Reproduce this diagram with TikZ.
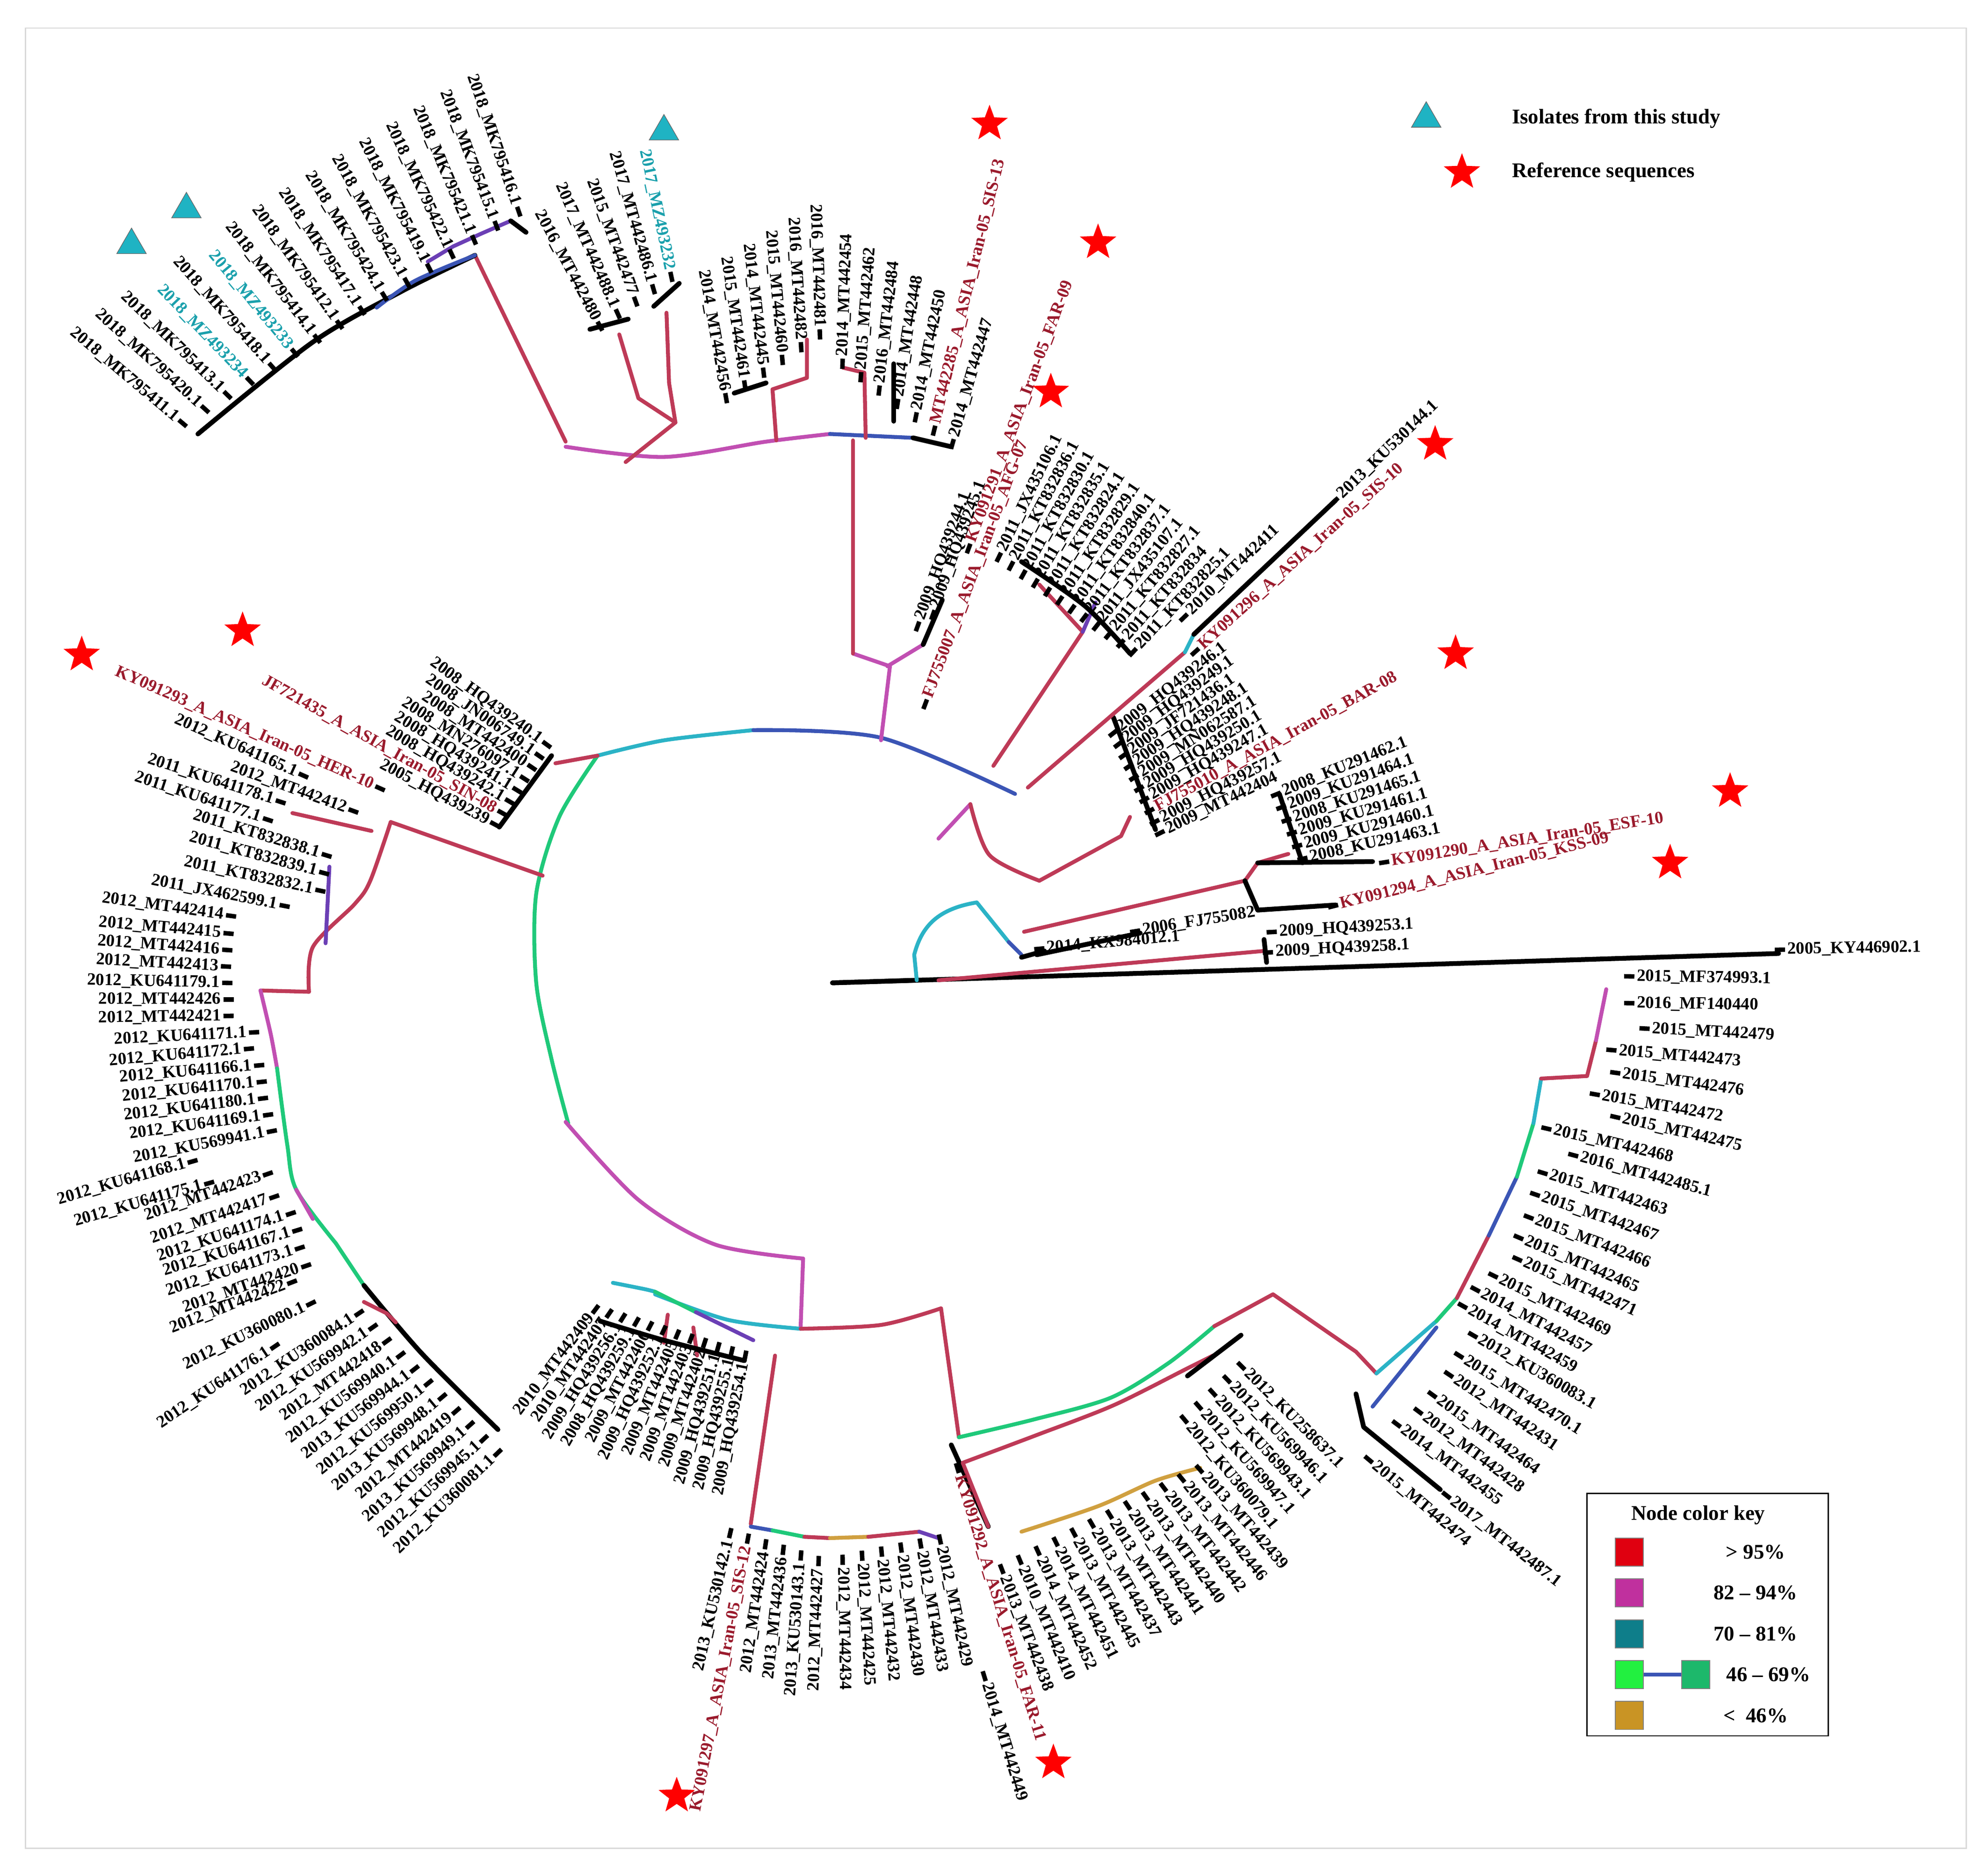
\documentclass[tikz,border=0pt]{standalone}
\usepackage{fontspec}
\setmainfont{Liberation Serif}
\usetikzlibrary{shapes.geometric}
\definecolor{k}{HTML}{000000}
\definecolor{labred}{HTML}{9A1A2C}
\definecolor{labcyan}{HTML}{1AA0AC}
\definecolor{BrRed}{HTML}{BE3A57}
\definecolor{BrMag}{HTML}{C14FB2}
\definecolor{BrCyan}{HTML}{2BB3C6}
\definecolor{BrBlue}{HTML}{3B55B5}
\definecolor{BrPurple}{HTML}{6B3FB5}
\definecolor{BrGreen}{HTML}{1FC97A}
\definecolor{BrGold}{HTML}{D0A040}
\definecolor{KeyRed}{HTML}{E00010}
\definecolor{KeyMag}{HTML}{C0309E}
\definecolor{KeyTeal}{HTML}{0E7E8A}
\definecolor{KeyGreen}{HTML}{22F040}
\definecolor{KeyGreenB}{HTML}{1DB86B}
\definecolor{KeyGold}{HTML}{C99424}
\definecolor{IsoCyan}{HTML}{1FB3C3}

\tikzset{
  lbl/.style={font=\fontsize{11.5}{13}\selectfont\bfseries, inner sep=1.5pt},
  tick/.style={line width=3pt, black},
  br/.style={line width=2.6pt, line cap=round, line join=round},
  bR/.style={br, BrRed}, bM/.style={br, BrMag}, bC/.style={br, BrCyan},
  bB/.style={br, BrBlue}, bP/.style={br, BrPurple}, bG/.style={br, BrGreen},
  bY/.style={br, BrGold}, bK/.style={br, black, line width=3.2pt},
  refstar/.style={star, star points=5, star point ratio=2.4, fill=red, draw=none, minimum size=0.9cm, inner sep=0pt},
  isotri/.style={regular polygon, regular polygon sides=3, fill=IsoCyan, draw=black!60, line width=0.4pt, minimum size=0.8cm, inner sep=0pt},
  keysq/.style={draw=black!50, line width=0.6pt, minimum size=0.66cm, inner sep=0pt},
  keytxt/.style={font=\fontsize{14}{16}\selectfont\bfseries}
}

\newcount\lfno
% one leaf: x, y, rotation, 0 = text ends at tree / 180 = text starts at tree, text, colour
\newcommand\leaf[6]{%
  \global\advance\lfno by 1
  \ifnum#4=0 \def\lfanc{east}\else\def\lfanc{west}\fi
  \node[lbl, text=#6, rotate=#3, anchor=\lfanc] (lf\the\lfno) at (#1,#2) {#5};
  \draw[tick] (lf\the\lfno.\lfanc) -- ++({-(#3)+#4}:8);
}
% a run of leaves between two end positions
\newcommand\leafrun[8]{%
  \def\nn{0}%
  \foreach \t/\c in {#8}{\xdef\nn{\the\numexpr\nn+1\relax}}%
  \foreach \t/\c [count=\i from 0] in {#8}{
    \pgfmathsetmacro\f{\i/(\nn-1)}
    \pgfmathsetmacro\xx{(#1)+\f*((#4)-(#1))}
    \pgfmathsetmacro\yy{(#2)+\f*((#5)-(#2))}
    \pgfmathsetmacro\rr{(#3)+\f*((#6)-(#3))}
    \leaf{\xx}{\yy}{\rr}{#7}{\t}{\c}
  }%
}

\begin{document}
\begin{tikzpicture}[x=0.03cm, y=-0.03cm]
\useasboundingbox (0,0) rectangle (1557,1454);
\draw[black!15, line width=0.8pt] (20,22) rectangle (1540,1448);

% ---- backbone
\draw[bK] (652,770) -- (1393,747);
\draw[bR] (735,768) -- (990,745);
\draw[bK] (990,736) -- (992,754);
\draw[bK] (652,770) -- (718,768);
\draw[bC] (718,768) -- (716,748) .. controls (722,725) and (735,712) .. (765,707) -- (790,738);
\draw[bB] (790,738) -- (800,748);
\draw[bK] (800,750) -- (818,745);
\draw[bK] (812,748) -- (893,731);
\draw[bR] (802,730) -- (975,690);
\draw[bR] (975,690) -- (985,676) -- (1009,669);
\draw[bK] (1002,622) -- (1020,676);
\draw[bK] (975,690) -- (985,713) -- (1046,709);
\draw[bK] (985,676) -- (1075,675);

% ---- inner ring
\draw[bG] plot[smooth] coordinates {(468,592) (438,640) (420,700) (420,770) (432,830) (445,880)};
\draw[bC] plot[smooth] coordinates {(468,592) (520,580) (590,572)};
\draw[bB] plot[smooth] coordinates {(590,572) (690,578) (795,622)};
\draw[bM] (735,657) -- (760,630);
\draw[bR] plot[smooth] coordinates {(760,630) (775,670) (814,690)};
\draw[bR] (814,690) -- (878,655) -- (885,640);
\draw[bK] (872,562) -- (905,650);
\draw[bR] (778,600) -- (848,495) -- (814,458);
\draw[bP] (848,495) -- (858,472);
\draw[bK] plot[smooth] coordinates {(800,440) (850,475) (885,512)};
\draw[bR] (805,617) -- (928,511);
\draw[bC] (928,511) -- (935,497);
\draw[bK] (935,497) -- (1046,392);

% ---- top clades
\draw[bM] (668,512) -- (697,522) -- (690,580);
\draw[bR] (668,345) -- (668,512);
\draw[bM] (695,522) -- (723,505);
\draw[bK] (723,505) -- (738,470);
\draw[bM] plot[smooth] coordinates {(443,350) (520,358) (600,346) (650,340)};
\draw[bB] (650,340) -- (715,343);
\draw[bK] (715,343) -- (745,350);
\draw[bR] (490,362) -- (529,331);
\draw[bR] (529,331) -- (500,312) -- (485,262);
\draw[bR] (529,331) -- (524,300) -- (522,245);
\draw[bK] (462,258) -- (492,250);
\draw[bK] (512,240) -- (532,222);
\draw[bR] (608,345) -- (605,305) -- (632,296) -- (632,266);
\draw[bK] (575,308) -- (600,300);
\draw[bR] (678,343) -- (677,292) -- (660,288);
\draw[bK] (700,330) -- (700,285);
\draw[bR] (443,346) -- (372,200);
\draw[bK] plot[smooth] coordinates {(372,200) (315,228) (245,268) (155,340)};
\draw[bB] plot[smooth] coordinates {(372,200) (325,220) (295,241)};
\draw[bP] (335,205) -- (355,193) -- (377,183) -- (400,173);
\draw[bK] (400,173) -- (412,182);

% ---- left clades
\draw[bR] (468,592) -- (435,598);
\draw[bK] (391,648) -- (432,592);
\draw[bR] (425,686) -- (306,644);
\draw[bR] (291,651) -- (229,637);
\draw[bR] plot[smooth] coordinates {(306,644) (290,690) (278,708) (245,742) (242,777)};
\draw[bP] (258,679) -- (255,739);
\draw[bR] (242,777) -- (204,776);
\draw[bM] plot[smooth] coordinates {(204,776) (212,810) (217,837)};
\draw[bG] plot[smooth] coordinates {(217,837) (225,897) (232,932) (263,974)};
\draw[bM] (232,932) -- (245,955);
\draw[bG] (263,974) -- (285,1007);
\draw[bK] plot[smooth] coordinates {(285,1007) (330,1060) (390,1120)};
\draw[bR] (285,1020) -- (303,1029) -- (310,1036);

% ---- bottom clades
\draw[bM] plot[smooth] coordinates {(443,879) (500,940) (560,975) (629,986)};
\draw[bM] (629,986) -- (627,1041);
\draw[bC] plot[smooth] coordinates {(513,1014) (570,1034) (627,1041)};
\draw[bR] plot[smooth] coordinates {(627,1041) (690,1038) (737,1025)};
\draw[bR] (737,1025) -- (751,1126);
\draw[bC] plot[smooth] coordinates {(480,1005) (505,1010) (513,1012)};
\draw[bG] (513,1012) -- (545,1028);
\draw[bP] (545,1028) -- (590,1050);
\draw[bR] (523,1030) -- (520,1052);
\draw[bR] (543,1040) -- (546,1062);
\draw[bK] plot[smooth] coordinates {(470,1035) (520,1050) (583,1066)};
\draw[bR] (607,1062) -- (588,1194);
\draw[bB] (588,1196) -- (605,1199);
\draw[bG] (605,1199) -- (630,1204);
\draw[bR] (630,1204) -- (650,1205);
\draw[bY] (650,1205) -- (680,1204);
\draw[bR] (680,1204) -- (720,1200);
\draw[bP] (720,1200) -- (735,1205);
\draw[bG] plot[smooth] coordinates {(751,1126) (810,1112) (870,1095) (915,1068) (951,1039)};
\draw[bR] (951,1039) -- (997,1014) -- (1062,1059) -- (1078,1076);
\draw[bK] (745,1132) -- (774,1196);
\draw[bR] (774,1196) -- (754,1146);
\draw[bR] plot[smooth] coordinates {(754,1146) (810,1125) (872,1101) (930,1072) (950,1062)};
\draw[bK] (930,1078) -- (972,1046);
\draw[bY] plot[smooth] coordinates {(800,1200) (860,1180) (905,1160) (940,1150)};

% ---- right clade
\draw[bC] (1078,1076) -- (1125,1035);
\draw[bG] (1125,1035) -- (1141,1017);
\draw[bR] (1141,1017) -- (1166,968);
\draw[bB] (1166,968) -- (1188,922);
\draw[bG] (1188,922) -- (1201,880);
\draw[bC] (1201,880) -- (1207,845);
\draw[bR] (1207,845) -- (1243,843) -- (1250,815);
\draw[bM] (1250,815) -- (1258,775);
\draw[bB] (1075,1102) -- (1125,1040);
\draw[bK] (1062,1092) -- (1068,1118) -- (1128,1167);

% ---- leaves
\leafrun{140}{329}{-40}{405}{162}{-71}{0}{2018\_MK795411.1/k, 2018\_MK795420.1/k, 2018\_MK795413.1/k, 2018\_MZ493234/labcyan, 2018\_MK795418.1/k, 2018\_MZ493233/labcyan, 2018\_MK795414.1/k, 2018\_MK795412.1/k, 2018\_MK795417.1/k, 2018\_MK795424.1/k, 2018\_MK795423.1/k, 2018\_MK795419.1/k, 2018\_MK795422.1/k, 2018\_MK795421.1/k, 2018\_MK795415.1/k, 2018\_MK795416.1/k}
\leafrun{468}{252}{-62}{525}{213}{-78}{0}{2016\_MT442480/k, 2017\_MT442488.1/k, 2015\_MT442477/k, 2017\_MT442486.1/k, 2017\_MZ493232/labcyan}
\leafrun{568}{308}{-80}{642}{258}{-88}{0}{2014\_MT442456/k, 2015\_MT442461/k, 2014\_MT442445/k, 2015\_MT442460/k, 2016\_MT442482/k, 2016\_MT442481/k}
\leafrun{660}{281}{88}{747}{344}{74}{180}{2014\_MT442454/k, 2015\_MT442462/k, 2016\_MT442484/k, 2014\_MT442448/k, 2014\_MT442450/k, MT442285\_A\_ASIA\_Iran-05\_SIS-13/labred, 2014\_MT442447/k}
\leaf{726}{548}{69.5}{180}{FJ755007\_A\_ASIA\_Iran-05\_AFG-07}{labred}
\leaf{720}{487}{70}{180}{2009\_HQ439244.1}{k}
\leaf{732}{478}{70}{180}{2009\_HQ439245.1}{k}
\leaf{760}{426}{69.5}{180}{KY091291\_A\_ASIA\_Iran-05\_FAR-09}{labred}
\leafrun{784}{433}{64}{890}{508}{47}{180}{2011\_JX435106.1/k, 2011\_KT832836.1/k, 2011\_KT832830.1/k, 2011\_KT832835.1/k, 2011\_KT832824.1/k, 2011\_KT832829.1/k, 2011\_KT832840.1/k, 2011\_KT832837.1/k, 2011\_JX435107.1/k, 2011\_KT832827.1/k, 2011\_KT832834/k, 2011\_KT832825.1/k}
\leaf{930}{481}{44}{180}{2010\_MT442411}{k}
\leaf{1048}{390}{44}{180}{2013\_KU530144.1}{k}
\leaf{939}{508}{42}{180}{KY091296\_A\_ASIA\_Iran-05\_SIS-10}{labred}
\leafrun{875}{572}{38}{912}{651}{26}{180}{2009\_HQ439246.1/k, 2009\_HQ439249.1/k, 2009\_JF721436.1/k, 2009\_HQ439248.1/k, 2009\_MN062587.1/k, 2009\_HQ439250.1/k, 2009\_HQ439247.1/k, FJ755010\_A\_ASIA\_Iran-05\_BAR-08/labred, 2009\_HQ439257.1/k, 2009\_MT442404/k}
\leafrun{1003}{621}{22}{1024}{672}{12.5}{180}{2008\_KU291462.1/k, 2009\_KU291464.1/k, 2008\_KU291465.1/k, 2009\_KU291461.1/k, 2009\_KU291460.1/k, 2008\_KU291463.1/k}
\leaf{1088}{675}{9}{180}{KY091290\_A\_ASIA\_Iran-05\_ESF-10}{labred}
\leaf{1048}{709}{14}{180}{KY091294\_A\_ASIA\_Iran-05\_KSS-09}{labred}
\leaf{893}{729}{9}{180}{2006\_FJ755082}{k}
\leaf{818}{743}{5}{180}{2014\_KX984012.1}{k}
\leaf{1000}{730}{3}{180}{2009\_HQ439253.1}{k}
\leaf{997}{746}{3}{180}{2009\_HQ439258.1}{k}
\leaf{1398}{744}{1}{180}{2005\_KY446902.1}{k}
\foreach \x/\y/\r/\t in {1280/765/-1/2015\_MF374993.1, 1280/786/-1/2016\_MF140440, 1292/806/-3/2015\_MT442479, 1266/823/-5/2015\_MT442473, 1269/841/-8/2015\_MT442476, 1253/858/-10/2015\_MT442472, 1269/876/-13/2015\_MT442475, 1215/885/-13/2015\_MT442468, 1236/906/-15/2016\_MT442485.1, 1212/920/-17/2015\_MT442463, 1206/937/-19/2015\_MT442467, 1201/955/-21/2015\_MT442466, 1193/971/-23/2015\_MT442465, 1192/988/-24/2015\_MT442471, 1173/1001/-26/2015\_MT442469, 1159/1012/-28/2014\_MT442457, 1149/1025/-29/2014\_MT442459, 1157/1048/-30/2012\_KU360083.1, 1146/1064/-32/2015\_MT442470.1, 1138/1079/-34/2012\_MT442431, 1125/1095/-36/2015\_MT442464, 1114/1108/-37/2012\_MT442428, 1097/1118/-37/2014\_MT442455, 1136/1174/-38/2017\_MT442487.1, 1075/1146/-40/2015\_MT442474}
  {\leaf{\x}{\y}{\r}{180}{\t}{k}}
\leafrun{975}{1073}{-45}{930}{1115}{-50}{180}{2012\_KU258637.1/k, 2012\_KU569946.1/k, 2012\_KU569943.1/k, 2012\_KU569947.1/k, 2012\_KU360079.1/k}
\leafrun{942}{1154}{-49}{786}{1233}{-69}{180}{2013\_MT442439/k, 2013\_MT442446/k, 2013\_MT442442/k, 2013\_MT442440/k, 2013\_MT442441/k, 2013\_MT442443/k, 2013\_MT442437/k, 2013\_MT442445/k, 2014\_MT442451/k, 2014\_MT442452/k, 2010\_MT442410/k, 2013\_MT442438/k}
\leaf{751}{1154}{-73}{180}{KY091292\_A\_ASIA\_Iran-05\_FAR-11}{labred}
\leaf{772}{1317}{-73}{180}{2014\_MT442449}{k}
\leafrun{660}{1226}{-89}{737}{1210}{-78}{180}{2012\_MT442434/k, 2012\_MT442425/k, 2012\_MT442432/k, 2012\_MT442430/k, 2012\_MT442433/k, 2012\_MT442429/k}
\leafrun{571}{1205}{77}{641}{1227}{88}{0}{2013\_KU530142.1/k, KY091297\_A\_ASIA\_Iran-05\_SIS-12/labred, 2012\_MT442424/k, 2013\_MT442436/k, 2013\_KU530143.1/k, 2012\_MT442427/k}
\leafrun{464}{1029}{53}{583}{1066}{79}{0}{2010\_MT442409/k, 2010\_MT442407/k, 2009\_HQ439256.1/k, 2008\_HQ439259.1/k, 2009\_MT442406/k, 2009\_HQ439252.1/k, 2009\_MT442405/k, 2009\_MT442403/k, 2009\_MT442402/k, 2009\_HQ439251.1/k, 2009\_HQ439255.1/k, 2009\_HQ439254.1/k}
\leafrun{278}{1031}{34}{387}{1141}{44}{0}{2012\_KU360084.1/k, 2012\_KU569942.1/k, 2012\_MT442418/k, 2012\_KU569940.1/k, 2013\_KU569944.1/k, 2012\_KU569950.1/k, 2013\_KU569948.1/k, 2012\_MT442419/k, 2013\_KU569949.1/k, 2012\_KU569945.1/k, 2012\_KU360081.1/k}
\foreach \x/\y/\r/\t/\c in {294/616/-24/KY091293\_A\_ASIA\_Iran-05\_HER-10/labred, 234/606/-24/2012\_KU641165.1/k, 273/634/-20/2012\_MT442412/k, 216/627/-18/2011\_KU641178.1/k, 206/641/-18/2011\_KU641177.1/k, 252/669/-17/2011\_KT832838.1/k, 250/683/-15/2011\_KT832839.1/k, 247/697/-12/2011\_KT832832.1/k, 219/709/-11/2011\_JX462599.1/k, 177/717/-8/2012\_MT442414/k, 175/731/-5/2012\_MT442415/k, 174/744/-4/2012\_MT442416/k, 173/757/-3/2012\_MT442413/k, 174/770/-1/2012\_KU641179.1/k, 175/783/0/2012\_MT442426/k, 175/796/1/2012\_MT442421/k, 195/809/3/2012\_KU641171.1/k, 191/822/5/2012\_KU641172.1/k, 199/835/5/2012\_KU641166.1/k, 201/848/6/2012\_KU641170.1/k, 202/861/7/2012\_KU641180.1/k, 206/874/8/2012\_KU641169.1/k, 209/887/11/2012\_KU569941.1/k, 147/911/16/2012\_KU641168.1/k, 160/928/16/2012\_KU641175.1/k, 206/921/19/2012\_MT442423/k, 211/939/19/2012\_MT442417/k, 224/952/18/2012\_KU641174.1/k, 229/965/17/2012\_KU641167.1/k, 231/979/18/2012\_KU641173.1/k, 236/993/19/2012\_MT442420/k, 225/1006/21/2012\_MT442422/k, 240/1023/26/2012\_KU360080.1/k, 212/1057/34/2012\_KU641176.1/k}
  {\leaf{\x}{\y}{\r}{0}{\t}{\c}}
\leafrun{425}{581}{-36}{384}{644}{-28}{0}{2008\_HQ439240.1/k, 2008\_JN006749.1/k, 2008\_MT442400/k, 2008\_MN276097.1/k, 2008\_HQ439241.1/k, 2008\_HQ439242.1/k, JF721435\_A\_ASIA\_Iran-05\_SIN-08/labred, 2005\_HQ439239/k}

% ---- markers
\foreach \x/\y [count=\i] in {775/97, 860/190, 823/307, 1124/348, 1140/512, 1355/620, 1308/676, 64/513, 190/494, 530/1407, 825/1381}
  \node[refstar] (star\i) at (\x,\y) {};
\foreach \x/\y [count=\i] in {520/103, 146/164, 103/192}
  \node[isotri] (iso\i) at (\x,\y) {};

% ---- legend
\node[isotri] (legiso) at (1117,93) {};
\node[keytxt, anchor=west] (legisotxt) at (1180,93) {Isolates from this study};
\node[refstar] (legstar) at (1145,135) {};
\node[keytxt, anchor=west] (legstartxt) at (1180,135) {Reference sequences};

\draw[black, line width=0.8pt] (1243,1170) rectangle (1432,1360);
\node[keytxt] (keytitle) at (1330,1187) {Node color key};
\node[keysq, fill=KeyRed] (sq1) at (1276,1216) {};
\node[keysq, fill=KeyMag] (sq2) at (1276,1248) {};
\node[keysq, fill=KeyTeal] (sq3) at (1276,1280) {};
\node[keysq, fill=KeyGreen] (sq4) at (1276,1312) {};
\node[keysq, fill=KeyGreenB] (sq4b) at (1328,1312) {};
\draw[BrBlue, line width=2.5pt] (sq4) -- (sq4b);
\node[keysq, fill=KeyGold] (sq5) at (1276,1344) {};
\node[keytxt] (k1) at (1375,1216) {> 95\%};
\node[keytxt] (k2) at (1375,1248) {82 -- 94\%};
\node[keytxt] (k3) at (1375,1280) {70 -- 81\%};
\node[keytxt] (k4) at (1385,1312) {46 -- 69\%};
\node[keytxt] (k5) at (1375,1344) {<\ \ 46\%};
\end{tikzpicture}
\end{document}
